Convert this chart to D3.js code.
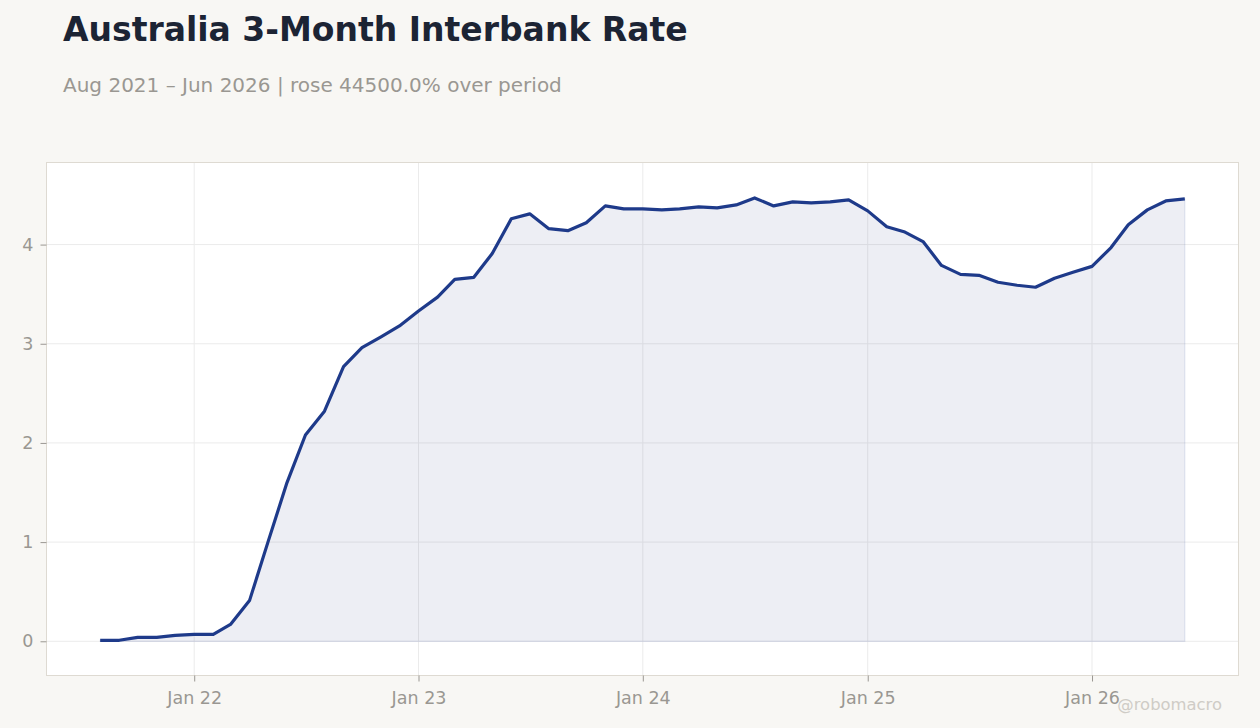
<!DOCTYPE html>
<html lang="en">
<head>
<meta charset="UTF-8">
<title>Australia 3-Month Interbank Rate</title>
<script src="https://cdn.jsdelivr.net/npm/d3@7"></script>
<style>
	html,body{margin:0;padding:0;background:#f8f7f4;}
	svg{display:block;font-family:"DejaVu Sans",sans-serif;}
</style>
</head>
<body>
<script type="text/javascript">
// monthly observations, Aug 2021 .. Jun 2026
var startMonth = "2021-08";
var rates = [
	0.01,0.01,0.04,0.04,0.06,                                    // 2021 Aug-Dec
	0.07,0.07,0.17,0.41,1.00,1.60,2.08,2.32,2.77,2.96,3.07,3.18, // 2022
	3.33,3.47,3.65,3.67,3.91,4.26,4.31,4.16,4.14,4.22,4.39,4.36, // 2023
	4.36,4.35,4.36,4.38,4.37,4.40,4.47,4.39,4.43,4.42,4.43,4.45, // 2024
	4.34,4.18,4.13,4.03,3.79,3.70,3.69,3.62,3.59,3.57,3.66,3.72, // 2025
	3.78,3.97,4.20,4.35,4.44,4.46                                // 2026 Jan-Jun
];
var yTicks = [0,1,2,3,4];
var xTickYears = [2022,2023,2024,2025,2026];

var title = "Australia 3-Month Interbank Rate";
var subtitle = "Aug 2021 \u2013 Jun 2026 | rose 44500.0% over period";

var width = 1260, height = 728;
var plot = {left:46.5, top:162.5, right:1238.5, bottom:675.5};

var parseMonth = d3.timeParse("%Y-%m");
var t0 = parseMonth(startMonth);
var data = rates.map(function(v,i){ return {date:d3.timeMonth.offset(t0,i), value:v}; });

var svg = d3.select("body").append("svg").attr("width",width).attr("height",height);

// titles
svg.append("text").attr("x",63).attr("y",41)
	.attr("font-size",33).attr("font-weight","bold").attr("fill","#1c2434").text(title);
svg.append("text").attr("x",63).attr("y",92)
	.attr("font-size",20).attr("fill","#9a9792").text(subtitle);

// scales (5% padding on time)
var tFirst = data[0].date, tLast = data[data.length-1].date;
var pad = (tLast - tFirst)*0.0495;
var xScale = d3.scaleTime()
	.domain([new Date(+tFirst - pad), new Date(+tLast + pad)])
	.range([plot.left, plot.right]);
var yMax = d3.max(rates);
var yScale = d3.scaleLinear()
	.domain([-0.345, yMax*1.08])
	.range([plot.bottom, plot.top]);

// plot background
svg.append("rect").attr("x",plot.left).attr("y",plot.top)
	.attr("width",plot.right-plot.left).attr("height",plot.bottom-plot.top)
	.attr("fill","#ffffff");

var xTicks = xTickYears.map(function(y){ return new Date(y,0,1); });

// grid
svg.append("g").selectAll("line").data(yTicks).enter().append("line")
	.attr("x1",plot.left).attr("x2",plot.right)
	.attr("y1",function(d){return yScale(d);}).attr("y2",function(d){return yScale(d);})
	.attr("stroke","#ebebeb").attr("stroke-width",1);
svg.append("g").selectAll("line").data(xTicks).enter().append("line")
	.attr("y1",plot.top).attr("y2",plot.bottom)
	.attr("x1",function(d){return xScale(d);}).attr("x2",function(d){return xScale(d);})
	.attr("stroke","#ebebeb").attr("stroke-width",1);

// area + line
var area = d3.area()
	.x(function(d){return xScale(d.date);})
	.y0(yScale(0))
	.y1(function(d){return yScale(d.value);});
svg.append("path").datum(data).attr("d",area)
	.attr("fill","#2a3f7f").attr("fill-opacity",0.085)
	.attr("stroke","#2a3f9f").attr("stroke-opacity",0.12).attr("stroke-width",1.2);

var line = d3.line()
	.x(function(d){return xScale(d.date);})
	.y(function(d){return yScale(d.value);});
svg.append("path").datum(data).attr("d",line)
	.attr("fill","none").attr("stroke","#1e3a8a").attr("stroke-width",3.2)
	.attr("stroke-linejoin","round");

// frame
svg.append("rect").attr("x",plot.left).attr("y",plot.top)
	.attr("width",plot.right-plot.left).attr("height",plot.bottom-plot.top)
	.attr("fill","none").attr("stroke","#dedad2").attr("stroke-width",1);

// axes
var xAxis = d3.axisBottom(xScale).tickValues(xTicks).tickFormat(d3.timeFormat("%b %y"))
	.tickSize(6).tickPadding(10);
var gx = svg.append("g").attr("transform","translate(0,"+plot.bottom+")").call(xAxis);
var yAxis = d3.axisLeft(yScale).tickValues(yTicks).tickFormat(d3.format("d"))
	.tickSize(6).tickPadding(7);
var gy = svg.append("g").attr("transform","translate("+plot.left+",0)").call(yAxis);
[gx,gy].forEach(function(g){
	g.select(".domain").remove();
	g.selectAll(".tick line").attr("stroke","#9a9792");
	g.selectAll(".tick text").attr("fill","#9a9792").attr("font-size",17.5)
		.attr("font-family","DejaVu Sans, sans-serif");
});

// watermark
svg.append("text").attr("x",1222).attr("y",710).attr("text-anchor","end")
	.attr("font-size",16.4).attr("fill","#cfccc6").text("@robomacro");
</script>
</body>
</html>
